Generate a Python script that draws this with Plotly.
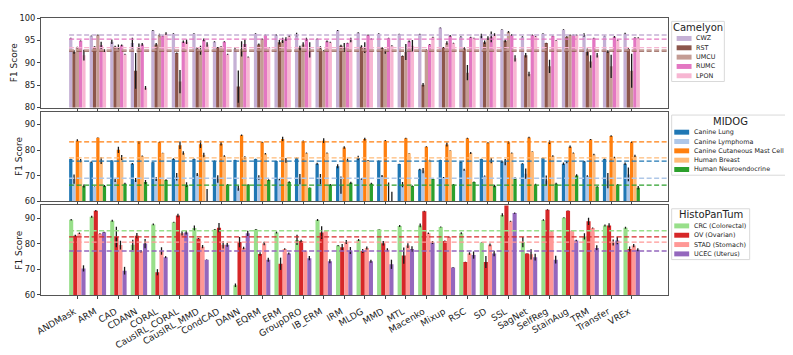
import plotly.graph_objects as go
from plotly.subplots import make_subplots

methods = ["ANDMask", "ARM", "CAD", "CDANN", "CORAL", "CausIRL_CORAL", "CausIRL_MMD",
           "CondCAD", "DANN", "EQRM", "ERM", "GroupDRO", "IB_ERM", "IRM", "MLDG", "MMD",
           "MTL", "Macenko", "Mixup", "RSC", "SD", "SSL", "SagNet", "SelfReg", "StainAug",
           "TRM", "Transfer", "VREx"]

# Camelyon
cam_domains = ["CWZ", "RST", "UMCU", "RUMC", "LPON"]
cam_colors = ["#c5b0d5", "#8c564b", "#c49c94", "#e377c2", "#f7b6d2"]
cam_cwz = [95.5, 96.0, 94.7, 94.4, 97.2, 96.5, 96.5, 94.7, 93.1, 96.5, 96.2, 96.3, 95.3, 97.2,
           96.7, 96.5, 96.4, 96.4, 97.8, 95.8, 96.0, 97.4, 95.8, 96.5, 97.4, 96.2, 96.0, 96.5]
cam_rst = [92.4, 93.6, 93.6, 88.2, 94.1, 92.2, 93.2, 93.4, 84.7, 94.1, 94.6, 93.3, 93.2, 93.8,
           93.6, 93.3, 91.5, 85.1, 93.4, 93.2, 94.6, 94.9, 91.7, 94.4, 95.8, 92.4, 92.5, 93.1]
cam_umcu = [93.4, 96.2, 93.4, 93.4, 96.2, 85.8, 92.8, 93.6, 93.1, 95.3, 95.0, 94.1, 92.7, 93.4,
            93.4, 92.5, 92.4, 92.9, 94.4, 87.8, 95.5, 96.9, 87.5, 89.2, 96.2, 90.3, 89.2, 88.2]
cam_rumc = [94.9, 93.9, 93.9, 94.1, 96.0, 94.7, 95.1, 94.7, 94.2, 96.2, 95.3, 95.3, 94.8, 94.4,
            96.2, 95.5, 94.8, 94.1, 96.0, 95.7, 95.8, 96.2, 96.2, 96.0, 96.2, 95.5, 95.8, 95.6]
cam_lpon = [91.7, 92.7, 91.9, 84.4, 96.5, 94.7, 94.1, 91.9, 91.3, 93.4, 96.0, 92.9, 94.6, 95.1,
            95.3, 93.8, 93.8, 95.7, 94.4, 95.5, 96.3, 91.0, 95.9, 95.0, 96.2, 91.7, 95.1, 95.6]
cam_cwz_err = [0.1, 0.1, 0.5, 1.2, 0.1, 0.1, 0.1, 0.1, 0.4, 0.1, 0.2, 0.4, 0.1, 0.1,
               0.1, 0.1, 0.1, 0.1, 0.1, 0.1, 0.5, 0.1, 0.1, 0.1, 0.1, 0.4, 0.1, 0.2]
cam_rst_err = [0.4, 0.1, 0.2, 4.0, 0.3, 0.1, 0.3, 0.1, 3.6, 0.2, 0.5, 0.5, 0.5, 0.2,
               0.3, 0.2, 0.1, 0.4, 0.1, 0.3, 0.4, 0.3, 0.5, 0.1, 0.1, 0.8, 0.3, 0.2]
cam_umcu_err = [0.2, 0.1, 0.7, 0.9, 0.3, 2.6, 1.0, 0.1, 1.7, 0.1, 0.6, 0.5, 0.1, 1.0,
                1.2, 0.5, 1.8, 0.1, 0.4, 1.7, 0.4, 0.2, 0.5, 1.5, 0.1, 1.4, 2.6, 3.8]
cam_rumc_err = [0.1, 0.8, 0.2, 0.3, 0.1, 0.3, 0.3, 0.1, 1.0, 0.1, 0.4, 0.3, 0.2, 0.1,
                0.1, 0.1, 0.2, 0.1, 0.2, 0.1, 1.2, 0.2, 0.1, 0.1, 0.1, 0.1, 0.2, 0.1]
cam_lpon_err = [1.2, 0.3, 0.1, 0.4, 0.3, 0.5, 0.5, 0.1, 0.1, 0.1, 0.2, 1.7, 0.1, 0.5,
                0.1, 0.1, 1.3, 0.1, 0.1, 0.1, 0.3, 0.7, 0.1, 0.1, 0.1, 0.5, 0.1, 0.1]
cam_ref = [96.2, 92.6, 92.85, 95.3, 93.4]

# MIDOG
mid_domains = ["Canine Lung", "Canine Lymphoma", "Canine Cutaneous Mast Cell",
               "Human Breast", "Human Neuroendocrine"]
mid_colors = ["#1f77b4", "#aec7e8", "#ff7f0e", "#ffbb78", "#2ca02c"]
mid_lung = [76.5, 75.3, 75.9, 74.7, 75.3, 76.5, 76.5, 75.7, 76.1, 76.5, 75.7, 76.9, 74.7, 73.7,
            76.9, 75.7, 74.6, 72.4, 76.1, 75.4, 76.5, 75.5, 74.7, 76.9, 74.7, 75.5, 76.5, 74.7]
mid_lymph = [68.7, 65.7, 68.1, 68.3, 68.7, 69.6, 70.5, 68.7, 65.1, 69.3, 68.5, 68.7, 68.7, 66.3,
             68.7, 69.9, 66.5, 72.0, 69.3, 72.3, 69.9, 75.3, 70.8, 68.1, 75.3, 69.9, 68.1, 70.5]
mid_mast = [83.7, 84.8, 80.1, 83.1, 83.1, 81.9, 82.3, 82.5, 85.8, 83.1, 84.3, 83.4, 83.7, 81.0,
            84.3, 83.7, 84.6, 81.3, 82.2, 84.6, 82.9, 83.1, 84.9, 83.1, 81.3, 84.1, 85.5, 83.1]
mid_breast = [75.9, 75.9, 77.1, 77.7, 78.9, 78.9, 78.1, 77.7, 77.1, 78.6, 76.0, 78.9, 78.9, 76.1,
              75.9, 56.0, 78.8, 76.1, 79.8, 78.9, 75.9, 78.9, 79.5, 77.7, 78.9, 78.3, 77.1, 77.7]
mid_neuro = [66.0, 66.0, 66.9, 67.5, 68.3, 66.5, 57.0, 66.5, 66.5, 68.3, 67.5, 65.3, 66.5, 67.2,
             66.9, 58.0, 66.0, 68.7, 66.5, 67.5, 66.0, 68.9, 66.5, 66.9, 70.1, 65.7, 66.5, 65.3]
mid_lung_err = [0.1, 0.2, 0.1, 0.3, 0.1, 0.3, 0.2, 0.2, 0.1, 0.1, 0.1, 0.2, 0.4, 0.8,
                0.9, 0.2, 0.1, 0.3, 0.1, 0.2, 0.1, 0.4, 0.2, 0.2, 0.5, 0.2, 0.2, 0.5]
mid_lymph_err = [1.8, 0.1, 0.6, 0.8, 0.8, 1.5, 0.6, 1.5, 1.0, 0.9, 0.3, 2.0, 2.0, 3.4,
                 0.3, 0.4, 1.0, 1.0, 0.2, 0.4, 0.2, 1.2, 2.0, 2.0, 0.4, 0.3, 3.0, 2.7]
mid_mast_err = [0.5, 0.1, 1.2, 0.5, 0.2, 1.5, 1.5, 0.7, 0.3, 0.2, 0.9, 0.4, 0.9, 0.5,
                0.5, 0.2, 0.2, 0.2, 0.8, 0.2, 0.2, 0.5, 0.3, 0.7, 0.5, 0.2, 0.3, 0.3]
mid_breast_err = [0.6, 1.3, 1.0, 0.2, 0.1, 0.7, 0.9, 0.3, 0.5, 0.3, 0.9, 0.2, 0.2, 0.6,
                  0.2, 11.3, 0.1, 0.1, 0.1, 0.4, 1.0, 0.2, 0.1, 0.3, 0.2, 0.3, 0.3, 0.5]
mid_neuro_err = [0.6, 0.4, 0.3, 0.8, 0.3, 0.9, 7.8, 0.3, 0.2, 0.3, 0.3, 0.1, 0.3, 0.4,
                 0.3, 5.7, 0.2, 0.2, 0.3, 0.2, 0.5, 0.5, 0.4, 0.3, 0.5, 0.2, 0.3, 0.7]
mid_ref = [75.7, 69.0, 83.25, 77.0, 66.3]

# HistoPanTum
hpt_domains = ["CRC (Colorectal)", "OV (Ovarian)", "STAD (Stomach)", "UCEC (Uterus)"]
hpt_colors = ["#98df8a", "#d62728", "#ff9896", "#9467bd"]
hpt_crc = [89.4, 90.6, 89.0, 79.6, 87.6, 88.4, 86.2, 85.6, 63.8, 85.6, 84.4, 81.5, 89.3, 79.3,
           81.5, 85.7, 87.0, 87.2, 86.6, 84.1, 80.5, 91.3, 80.7, 89.3, 90.2, 82.9, 87.2, 86.3]
hpt_ov = [83.2, 92.9, 82.7, 83.2, 68.9, 91.1, 82.1, 86.3, 80.7, 76.0, 72.2, 81.1, 84.4, 78.7,
          77.2, 80.2, 75.4, 92.7, 81.1, 72.9, 72.9, 95.5, 76.2, 93.3, 92.9, 88.8, 87.2, 78.0]
hpt_stad = [84.1, 83.9, 79.5, 77.1, 77.2, 84.1, 78.9, 79.6, 78.4, 80.1, 78.0, 77.1, 85.1, 80.7,
            78.4, 77.7, 79.3, 84.1, 82.7, 76.2, 79.6, 88.8, 75.9, 85.0, 85.1, 86.2, 80.5, 79.3]
hpt_ucec = [70.4, 84.5, 69.5, 80.1, 74.8, 84.4, 73.8, 79.6, 84.1, 73.8, 76.2, 74.4, 73.2, 77.4,
            73.2, 72.0, 78.0, 80.5, 70.7, 75.6, 76.2, 92.0, 74.8, 73.8, 81.3, 78.4, 81.3, 77.7]
hpt_crc_err = [0.3, 0.4, 0.4, 2.0, 0.3, 0.2, 1.0, 0.2, 0.7, 0.2, 0.4, 2.0, 0.4, 0.2,
               0.4, 0.1, 0.4, 0.7, 0.2, 0.4, 0.1, 0.6, 2.0, 0.3, 0.2, 1.2, 0.4, 0.4]
hpt_ov_err = [0.3, 0.3, 4.0, 1.0, 1.2, 0.7, 0.2, 1.8, 2.0, 0.7, 2.4, 0.5, 2.5, 1.2,
              0.8, 0.9, 3.2, 0.2, 0.2, 0.1, 2.3, 0.3, 0.1, 0.2, 0.1, 1.4, 0.8, 1.0]
hpt_stad_err = [0.3, 0.2, 1.7, 0.5, 1.5, 0.8, 0.6, 1.4, 0.5, 0.7, 0.3, 0.2, 0.1, 0.8,
                0.6, 0.6, 0.9, 0.3, 0.2, 0.5, 0.5, 0.2, 2.0, 0.1, 0.1, 0.2, 1.2, 0.6]
hpt_ucec_err = [1.2, 0.2, 1.5, 1.8, 0.4, 0.8, 0.1, 0.7, 1.0, 0.8, 0.4, 0.8, 0.8, 1.4,
                0.6, 1.8, 1.1, 0.6, 0.1, 1.4, 1.1, 0.2, 1.3, 1.5, 0.3, 1.0, 1.5, 0.6]
hpt_ref = [85.1, 82.7, 80.7, 77.2]

panels = [
    ("Camelyon", cam_domains, cam_colors,
     [cam_cwz, cam_rst, cam_umcu, cam_rumc, cam_lpon],
     [cam_cwz_err, cam_rst_err, cam_umcu_err, cam_rumc_err, cam_lpon_err],
     cam_ref, [80, 100], [80, 85, 90, 95, 100], 53, 8.7),
    ("MIDOG", mid_domains, mid_colors,
     [mid_lung, mid_lymph, mid_mast, mid_breast, mid_neuro],
     [mid_lung_err, mid_lymph_err, mid_mast_err, mid_breast_err, mid_neuro_err],
     mid_ref, [60, 95], [60, 70, 80, 90], 118, 6.3),
    ("HistoPanTum", hpt_domains, hpt_colors,
     [hpt_crc, hpt_ov, hpt_stad, hpt_ucec],
     [hpt_crc_err, hpt_ov_err, hpt_stad_err, hpt_ucec_err],
     hpt_ref, [60, 95], [60, 70, 80, 90], 78.5, 6.3),
]

# page body adds an 8px margin, so the figure is 8px smaller and shifted
W, H = 785, 347
ML, MR, MT, MB = 29, 125, 5, 51
VS = 0.015
PW = W - ML - MR
PH = (H - MT - MB) * (1 - 2 * VS) / 3
XR = [-1.77, len(methods) - 1 + 1.77]

fig = make_subplots(rows=3, cols=1, shared_xaxes=True, vertical_spacing=VS)

for r, (title, domains, colors, vals, errs, refs, yr, yt, lw, ix) in enumerate(panels, start=1):
    for d, c, v, e in zip(domains, colors, vals, errs):
        fig.add_trace(go.Bar(x=methods, y=v, name=d, marker_color=c, marker_line_width=0,
                             showlegend=False,
                             error_y=dict(type="data", array=e, color="#1a1a1a",
                                          thickness=1.3, width=0)),
                      row=r, col=1)
    sx = "x" if r == 1 else f"x{r}"
    sy = "y" if r == 1 else f"y{r}"
    for ref, c in zip(refs, colors):
        fig.add_shape(type="line", xref=sx, yref=sy, x0=-0.4, x1=XR[1], y0=ref, y1=ref,
                      line=dict(color=c, width=1.3, dash="5px,2.5px"))
    fig.update_yaxes(range=yr, tickvals=yt, row=r, col=1)

    # legend box drawn beside each panel
    dx = lambda p: 1 + p / PW
    dy = lambda p: 1 - p / PH
    n = len(domains)
    fig.add_shape(type="rect", xref=f"{sx} domain", yref=f"{sy} domain",
                  x0=dx(3.7), x1=dx(3.7 + lw), y0=dy(3.5), y1=dy(21.5 + 9.8 * (n - 1) + 6),
                  line=dict(color="#d9d9d9", width=1), fillcolor="white", layer="above")
    fig.add_annotation(xref=f"{sx} domain", yref=f"{sy} domain", x=dx(3.7 + lw / 2), y=dy(9.8),
                       text=title, showarrow=False, xanchor="center", yanchor="middle",
                       font=dict(size=10, color="#222"))
    for k, (d, c) in enumerate(zip(domains, colors)):
        yc = 21.5 + 9.8 * k
        fig.add_shape(type="rect", xref=f"{sx} domain", yref=f"{sy} domain",
                      x0=dx(ix), x1=dx(ix + 15), y0=dy(yc - 2.6), y1=dy(yc + 2.6),
                      line=dict(width=0), fillcolor=c, layer="above")
        fig.add_annotation(xref=f"{sx} domain", yref=f"{sy} domain", x=dx(ix + 17.5), y=dy(yc),
                           text=d, showarrow=False, xanchor="left", yanchor="middle",
                           font=dict(size=6.4, color="#222"))

fig.update_yaxes(title_text="F1 Score", title_font=dict(size=9), title_standoff=0,
                 tickfont=dict(size=8.3, color="#222"), ticks="outside", ticklen=3,
                 tickcolor="#444", showgrid=False, zeroline=False,
                 showline=True, mirror=True, linecolor="#555", linewidth=1)
fig.update_xaxes(range=XR, ticks="outside", ticklen=3, tickcolor="#444", showgrid=False,
                 showline=True, mirror=True, linecolor="#555", linewidth=1,
                 tickangle=-30, tickfont=dict(size=9, color="#222"),
                 ticklabelstandoff=4, ticklabelshift=-3)

fig.update_layout(
    width=W, height=H,
    margin=dict(l=ML, r=MR, t=MT, b=MB),
    barmode="group", bargap=0.2, bargroupgap=0,
    plot_bgcolor="white", paper_bgcolor="white",
    font=dict(family="DejaVu Sans", color="#222"),
    showlegend=False,
)

fig.write_html("out.html")
